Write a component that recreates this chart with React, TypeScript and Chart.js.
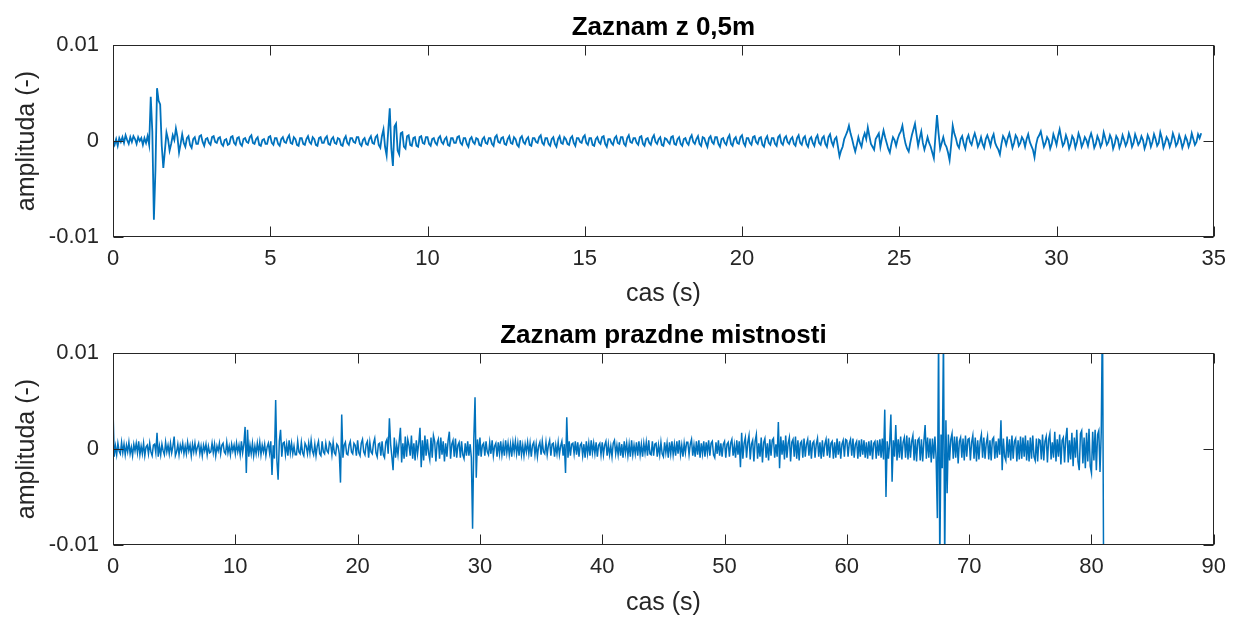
import React, { useEffect, useRef } from "react";
import { Chart, registerables } from "chart.js";

Chart.register(...registerables);

// amplitudes are stored in units of 1e-4
const AMP_UNIT = 1e-4;
const TOP_DT = 0.05; // s between samples (top record)
const BOTTOM_DT = 0.1; // s between samples (bottom record)

const topTitle = "Zaznam z 0,5m";
const bottomTitle = "Zaznam prazdne mistnosti";
const xLabel = "cas (s)";
const yLabel = "amplituda (-)";

const yTicks = [-0.01, 0, 0.01];
const yTickLabels = ["-0.01", "0", "0.01"];
const topXTicks = [0, 5, 10, 15, 20, 25, 30, 35];
const bottomXTicks = [0, 10, 20, 30, 40, 50, 60, 70, 80, 90];

// one row = one second (20 samples)
const topSignal = [
  0, -4, 2, -5, 3, -1, 4, -2, 6, 1, -3, 4, -1, 5, 2, -3, 4, 0, 3, -4,
  3, -2, 5, -4, 46, 10, -82, -30, 55, 42, 38, -5, -28, -10, 9, 2, -10, -3, 6, 1,
  13, 4, -12, -3, 7, -2, -6, 3, 5, -4, -7, 2, 4, -3, -3, 5, 6, -1, -5, 2,
  3, -2, -4, 4, 5, -1, -2, 3, 4, -3, -5, 1, 2, -4, -3, 4, 5, -2, -4, 3,
  4, -3, -5, 2, 3, -1, -2, 4, 6, -2, -3, 2, 4, -4, -5, 1, 2, -3, -3, 4,
  5, -2, -4, 3, 3, -3, -5, 2, 4, -1, -2, 3, 6, -2, -3, 4, 2, -4, -5, 3,
  3, -3, -4, 2, 5, -1, -3, 4, 2, -4, -5, 3, 4, -2, -2, 3, 5, -3, -4, 2,
  4, -2, -3, 3, 2, -4, -5, 2, 5, -2, -4, 3, 3, -1, -2, 4, 4, -3, -5, 1,
  3, -3, -4, 2, 5, -2, -3, 4, 6, -4, -7, 5, 12, -6, -15, 10, 34, -8, -26, 15,
  18, -10, -14, 8, 9, -6, -8, 5, 6, -4, -5, 3, 4, -5, -6, 4, 5, -2, -3, 4,
  4, -3, -5, 2, 3, -2, -4, 3, 5, -1, -3, 2, 4, -4, -5, 3, 3, -2, -2, 4,
  5, -2, -4, 3, 3, -3, -6, 2, 4, -1, -3, 3, 2, -4, -5, 2, 4, -2, -3, 3,
  3, -3, -5, 4, 6, -1, -2, 3, 4, -3, -4, 2, 5, -2, -3, 4, 2, -4, -6, 3,
  5, -1, -3, 2, 4, -4, -5, 3, 3, -1, -2, 4, 6, -2, -4, 3, 3, -3, -5, 2,
  4, -3, -6, 2, 5, -2, -3, 4, 2, -3, -4, 3, 5, -2, -5, 3, 3, -1, -2, 4,
  6, -2, -4, 3, 3, -4, -5, 2, 4, -1, -3, 4, 5, -3, -6, 2, 2, -2, -4, 3,
  5, -2, -3, 4, 4, -3, -5, 3, 6, -1, -2, 3, 3, -2, -4, 4, 5, -3, -5, 2,
  3, -2, -4, 3, 6, -1, -3, 2, 4, -4, -5, 3, 2, -1, -3, 4, 5, -3, -4, 2,
  4, -3, -5, 2, 3, -2, -4, 3, 6, -1, -3, 2, 5, -3, -5, 4, 3, -2, -6, 3,
  5, -1, -3, 4, 4, -3, -6, 2, 3, -2, -4, 3, 6, -3, -5, 2, 4, -2, -3, 4,
  6, -2, -5, 3, 3, -2, -4, 4, 5, -1, -3, 3, 4, -4, -6, 2, 5, -2, -4, 3,
  3, -3, -5, 4, 6, -2, -4, 3, 5, -1, -3, 2, 4, -3, -5, 3, 6, -2, -4, 3,
  5, -3, -6, 2, 4, -2, -5, 3, 6, -2, -4, 3, 5, -3, -6, 4, 7, -1, -5, 2,
  4, -6, -16, -10, -6, 2, 6, 10, 16, 8, 2, -5, -11, -4, 4, -2, -6, 3, 8, 2,
  14, 5, -3, -6, -9, 2, 5, 8, -6, 3, 11, 4, -2, -8, -12, -3, 4, 1, -5, 2,
  7, 10, 16, 5, -3, -8, -11, -2, 6, 12, 18, 6, -5, 3, 10, -2, -9, -3, 4, -2,
  -6, -12, -18, 5, 27, 8, -8, -2, 4, -3, -6, -12, -20, -4, 16, 8, 3, -4, -7, 2,
  5, -3, -8, 2, 6, -1, -4, 3, 8, 2, -6, -2, 4, -3, -7, 2, 6, 1, -5, 3,
  7, -2, -6, -9, -14, -3, 5, 2, -4, 3, 8, 1, -7, -2, 6, 3, -5, -2, 4, 1,
  -6, 2, 7, -1, -5, -9, -17, -4, 3, 6, 10, 2, -6, -2, 4, 1, -8, -3, 7, 2,
  -4, 5, 12, 3, -5, -2, 6, 1, -8, -3, 5, 2, -7, -1, 8, 3, -6, -2, 4, 1,
  -5, 3, 8, 2, -7, -3, 5, 1, -6, -2, 9, 3, -4, -1, 6, 2, -8, -3, 5, 2,
  -7, -2, 6, 1, -5, -1, 8, 3, -6, -2, 7, 2, -4, -1, 5, 1, -8, -3, 6, 2,
  -6, -1, 7, 2, -5, -2, 9, 3, -7, -2, 4, 1, -6, -1, 8, 3, -5, -2, 6, 1,
  -7, -2, 5, 1, -6, -1, 8, 2, -4, -1, 7, 3, 8,
];

// one row = one second (10 samples)
const bottomSignal = [
  42, -8, 3, -6, 6, -2, -5, 7, -4, 5,
  -6, 4, -3, 7, -5, 2, -7, 5, -2, 6,
  -4, 8, -6, 3, -5, 6, -7, 2, 4, -5,
  6, -3, -7, 4, 5, -4, 17, -8, 3, -6,
  5, -2, -6, 7, -3, 4, -5, 6, -4, 3,
  13, -7, -3, 5, -6, 4, -2, 6, -5, 3,
  -5, 7, -2, 4, -7, 5, -3, 6, -4, 2,
  6, -5, 3, -7, 4, -2, 5, -6, 3, -4,
  -3, 6, -4, 5, -7, 3, -2, 6, -5, 4,
  6, -3, -5, 7, -4, 3, -6, 5, -2, 4,
  -5, 6, -3, 4, -6, 8, -4, 5, 23, -25,
  20, -8, 4, -5, 6, -7, 3, -5, 6, -4,
  7, -6, 4, -3, 5, -7, 2, 6, -4, 8,
  -27, 4, -10, 51, -12, -32, 8, 20, -8, 6,
  7, -6, 5, -7, 9, -4, 6, -5, 3, -6,
  -6, 8, -3, -5, 7, -4, -7, 6, 3, -5,
  6, -4, 9, -2, -6, 5, -7, 3, 8, -5,
  -7, 8, -3, -5, 6, -2, -4, 7, 5, -6,
  7, -4, -6, 5, 3, -5, -35, 36, -9, 4,
  7, -5, -6, 4, 8, -3, -5, 6, 4, -7,
  9, -4, -7, 6, 10, -3, -6, 5, 8, -9,
  7, -3, -5, 6, 11, -4, -8, 5, 6, -7,
  8, -6, -9, 7, 10, -5, 32, 5, -8, -22,
  12, -9, 4, -6, 8, 22, -14, 6, -10, 13,
  -8, 10, 4, -7, 14, -10, 6, -12, 9, -5,
  6, 22, -19, 9, -12, 14, -7, 10, -4, -11,
  12, -9, 14, 8, -13, 6, 10, -10, 12, -6,
  8, -13, 6, -8, 9, 18, -10, 5, 9, -8,
  11, -9, 4, 7, -9, 8, -6, -10, 6, -7,
  8, -7, 5, -9, -83, 10, 54, -30, 10, -7,
  12, -8, 4, 6, -7, 8, -3, -6, 7, -5,
  9, -7, 3, 6, -8, 7, -5, 8, -6, 5,
  -7, 9, -4, 6, -6, 5, -8, 7, -3, 8,
  -5, 6, -7, 9, -6, 4, -7, 5, -3, 7,
  -5, 6, -8, 4, 7, -6, 5, -8, 3, 7,
  -6, 8, -3, -5, 7, -6, 4, 9, -7, 5,
  6, -8, 4, -5, 7, -6, 3, 8, -7, 5,
  -25, 33, -9, 8, -7, 5, 6, -5, 8, -6,
  7, -8, 4, 6, -7, 5, -9, 8, -5, 6,
  -7, 9, -4, 6, -5, 7, -8, 4, 6, -6,
  7, -6, 4, 8, -7, 5, -6, 3, -8, 6,
  9, -5, 4, -6, 7, -7, 5, -9, 8, -4,
  6, -7, 5, -8, 9, -6, 4, -5, 7, -7,
  8, -6, 5, -8, 6, -4, 7, -7, 9, -5,
  -6, 8, -7, 5, 6, -8, 4, -6, 7, -5,
  -8, 7, -4, 6, -9, 7, -5, 8, -6, 5,
  -7, 8, -5, 9, -6, 4, -8, 6, -4, 7,
  7, -6, 5, 10, -7, 4, -8, 8, -6, 9,
  -9, 6, -5, 8, -8, 7, -4, 9, -7, 6,
  8, -6, -9, 7, -5, 9, -7, 6, -8, 5,
  8, -9, 5, 7, -8, 6, 10, -7, 4, -9,
  9, -6, 8, -19, 17, -10, 6, 12, -9, 7,
  14, -11, 5, 9, -13, 8, 15, -10, 6, -8,
  12, -14, 7, 11, -9, 6, -12, 10, -7, 9,
  11, -9, 5, -8, 28, -20, 13, -6, 9, -11,
  14, -9, 6, 12, -13, 7, 10, -8, 13, -10,
  9, -12, 6, 8, -9, 11, -8, 5, 10, -7,
  9, -10, 6, 8, -9, 5, 11, -8, 7, -10,
  9, -8, 5, 10, -7, 11, -9, 6, 8, -10,
  7, -9, 11, -6, 8, -10, 5, 9, -8, 10,
  9, -8, 6, 10, -7, 11, -9, 5, 8, -10,
  9, -8, 10, -6, 9, -9, 7, -10, 8, -7,
  9, -11, 6, 8, -10, 9, -7, 10, -9, 11,
  -11, 41, -50, 8, -10, 6, 36, -34, 9, -8,
  25, -12, 10, -9, 13, -11, 7, 12, -9, 14,
  -11, 12, -9, 8, 14, -12, 10, -13, 9, 11,
  -12, 10, -13, 8, 25, -10, 12, -9, 11, -14,
  11, -10, 13, -9, -72, 120, -120, 15, -20, 120,
  -120, 30, -46, 15, -12, 10, 16, -10, 13, -9,
  13, -15, 8, 12, -9, 11, -12, 14, -8, 10,
  11, -12, 7, 14, -10, 12, -13, 9, -11, 8,
  15, -9, 12, -10, 6, 13, -11, 9, -12, 10,
  12, -10, 8, -9, 11, -6, 30, -22, 11, -8,
  -12, 13, -9, 10, -12, 14, -10, 8, 11, -13,
  9, -11, 13, -10, 12, -8, 14, -12, 9, -13,
  12, -10, 14, -8, -12, 11, -13, 10, 9, -11,
  15, -12, 8, 13, -14, 10, 16, -11, 7, -9,
  18, -13, 10, -8, 15, -16, 9, 12, -14, 11,
  22, -14, 9, -11, 17, -18, 12, -9, 20, -13,
  -22, 16, 19, -15, 12, -20, 17, -13, 21, -18,
  -25, 18, -12, 20, -22, 15, 19, -24, 17, 150, -150,
];

const FONT = '"Liberation Sans", Arial, Helvetica, sans-serif';
const AXIS_COLOR = "#262626";
const LINE_COLOR = "#0072BD";
const W = 1235;
const H = 309;

const framePlugin = {
  id: "matlabFrame",
  afterDraw(chart: any, _args: any, opts: any) {
    const { ctx, chartArea: a, scales } = chart;
    ctx.save();
    ctx.strokeStyle = AXIS_COLOR;
    ctx.lineWidth = 1;
    const l = Math.round(a.left) + 0.5;
    const r = Math.round(a.right) - 0.5;
    const t = Math.round(a.top) + 0.5;
    const b = Math.round(a.bottom) - 0.5;
    ctx.strokeRect(l, t, r - l, b - t);
    const tl = 10;
    ctx.beginPath();
    scales.x.ticks.forEach((tk: any) => {
      const px = Math.round(scales.x.getPixelForValue(tk.value)) + 0.5;
      ctx.moveTo(px, b);
      ctx.lineTo(px, b - tl);
      ctx.moveTo(px, t);
      ctx.lineTo(px, t + tl);
    });
    scales.y.ticks.forEach((tk: any) => {
      const py = Math.round(scales.y.getPixelForValue(tk.value)) + 0.5;
      ctx.moveTo(l, py);
      ctx.lineTo(l + tl, py);
      ctx.moveTo(r, py);
      ctx.lineTo(r - tl, py);
    });
    ctx.stroke();
    ctx.fillStyle = "#000";
    ctx.font = `bold 26px ${FONT}`;
    ctx.textAlign = "center";
    ctx.textBaseline = "middle";
    ctx.fillText(opts.text, (a.left + a.right) / 2, a.top - 17);
    ctx.restore();
  },
};

function makeConfig(
  title: string,
  signal: number[],
  dt: number,
  xMax: number,
  xTicks: number[],
  padTop: number,
  xHeight: number,
  lineWidth: number
): any {
  const data = signal.map((v, i) => ({ x: i * dt, y: v * AMP_UNIT }));
  return {
    type: "line",
    data: {
      datasets: [
        {
          data,
          borderColor: LINE_COLOR,
          borderWidth: lineWidth,
          pointRadius: 0,
          tension: 0,
          fill: false,
        },
      ],
    },
    options: {
      animation: false,
      responsive: false,
      events: [],
      parsing: false,
      normalized: true,
      layout: { padding: { top: padTop, left: 0, right: W - 1217, bottom: 0 } },
      plugins: {
        legend: { display: false },
        title: { display: false },
        tooltip: { enabled: false },
        matlabFrame: { text: title },
      },
      scales: {
        x: {
          type: "linear",
          min: 0,
          max: xMax,
          afterBuildTicks: (s: any) => {
            s.ticks = xTicks.map((v) => ({ value: v }));
          },
          afterFit: (s: any) => {
            s.height = xHeight;
          },
          grid: { display: false, drawTicks: false },
          border: { display: false },
          ticks: {
            autoSkip: false,
            maxRotation: 0,
            padding: 9,
            color: AXIS_COLOR,
            font: { family: FONT, size: 22 },
            callback: (v: any) => String(v),
          },
          title: {
            display: true,
            text: xLabel,
            color: AXIS_COLOR,
            font: { family: FONT, size: 25 },
            padding: { top: 0, bottom: 0 },
          },
        },
        y: {
          type: "linear",
          min: -0.01,
          max: 0.01,
          afterBuildTicks: (s: any) => {
            s.ticks = yTicks.map((v) => ({ value: v }));
          },
          afterFit: (s: any) => {
            s.width = 113;
          },
          grid: { display: false, drawTicks: false },
          border: { display: false },
          ticks: {
            padding: 14,
            color: AXIS_COLOR,
            font: { family: FONT, size: 22 },
            callback: (_v: any, i: number) => yTickLabels[i],
          },
          title: {
            display: true,
            text: yLabel,
            color: AXIS_COLOR,
            font: { family: FONT, size: 25 },
            padding: { top: 12, bottom: 0 },
          },
        },
      },
    },
    plugins: [framePlugin],
  };
}

export default function App() {
  const topRef = useRef<HTMLCanvasElement | null>(null);
  const bottomRef = useRef<HTMLCanvasElement | null>(null);

  useEffect(() => {
    const c1 = new Chart(
      topRef.current as HTMLCanvasElement,
      makeConfig(topTitle, topSignal, TOP_DT, 35, topXTicks, 45, 72, 1.8)
    );
    const c2 = new Chart(
      bottomRef.current as HTMLCanvasElement,
      makeConfig(bottomTitle, bottomSignal, BOTTOM_DT, 90, bottomXTicks, 44, 73, 1.5)
    );
    return () => {
      c1.destroy();
      c2.destroy();
    };
  }, []);

  return (
    <div
      style={{
        position: "absolute",
        left: 0,
        top: 0,
        width: W,
        height: 618,
        background: "#fff",
      }}
    >
      <canvas
        ref={topRef}
        width={W}
        height={H}
        style={{ position: "absolute", left: 0, top: 0, width: W, height: H }}
      />
      <canvas
        ref={bottomRef}
        width={W}
        height={H}
        style={{ position: "absolute", left: 0, top: H, width: W, height: H }}
      />
    </div>
  );
}
